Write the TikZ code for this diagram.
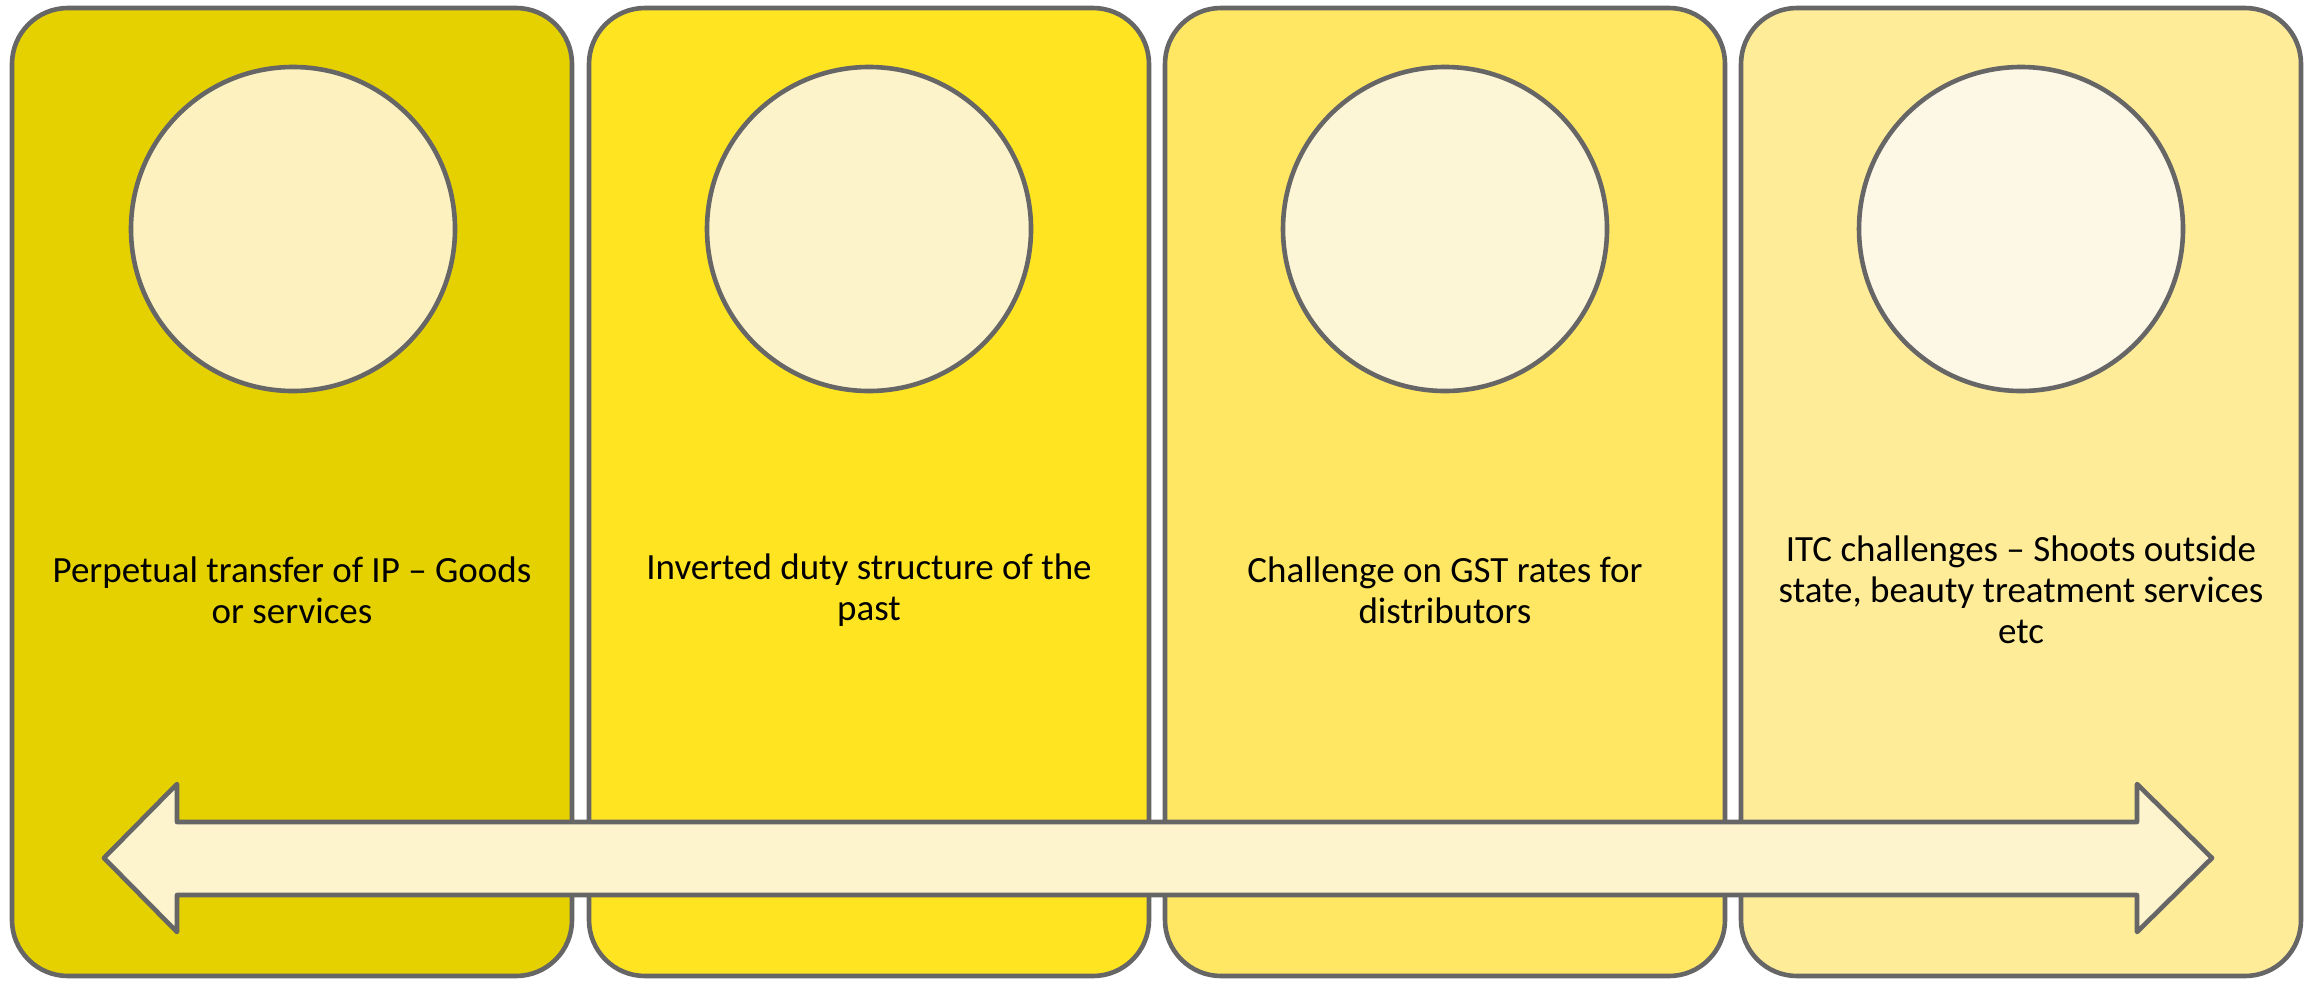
\documentclass[tikz,border=0pt]{standalone}
\usepackage{fontspec}
\setmainfont{Carlito}
\begin{document}
\definecolor{edge}{HTML}{666666}
\definecolor{panA}{HTML}{E5D000}
\definecolor{panB}{HTML}{FFE422}
\definecolor{panC}{HTML}{FFE763}
\definecolor{panD}{HTML}{FFEC98}
\definecolor{dotA}{HTML}{FDF2BF}
\definecolor{dotB}{HTML}{FDF3CA}
\definecolor{dotC}{HTML}{FDF6D6}
\definecolor{dotD}{HTML}{FDF7E6}
\definecolor{band}{HTML}{FDF3CC}
\begin{tikzpicture}[x=1pt,y=-1pt,
  panel/.style={draw=edge,line width=4.6pt,rounded corners=56pt,minimum width=560pt,minimum height=968pt,inner sep=0pt,outer sep=0pt},
  disc/.style={circle,draw=edge,line width=4.6pt,minimum size=324pt,inner sep=0pt},
  caption/.style={align=center,font=\fontsize{37}{41}\selectfont,text=black},
  band/.style={draw=edge,line width=4.6pt,line join=round,fill=band}]
\useasboundingbox (0,0) rectangle (2317,980);
% four stage panels
\node[panel,fill=panA] (p1) at (292,492) {};
\node[panel,fill=panB] (p2) at (869,492) {};
\node[panel,fill=panC] (p3) at (1445,492) {};
\node[panel,fill=panD] (p4) at (2021,492) {};
% placeholder discs
\node[disc,fill=dotA] (c1) at (293,229) {};
\node[disc,fill=dotB] (c2) at (869,229) {};
\node[disc,fill=dotC] (c3) at (1445,229) {};
\node[disc,fill=dotD] (c4) at (2021,229) {};
% captions
\node[caption] (t1) at (292,590) {Perpetual transfer of IP -- Goods\\or services};
\node[caption] (t2) at (869,590) {Inverted duty structure of the\\past};
\node[caption] (t3) at (1445,590) {Challenge on GST rates for\\distributors};
\node[caption] (t4) at (2021,590) {ITC challenges -- Shoots outside\\state, beauty treatment services\\etc};
% double-headed band across all panels
\coordinate (lt) at (104,858);
\coordinate (rt) at (2212,858);
\draw[band] (lt) -- (177,784) -- (177,822) -- (2137,822) -- (2137,784) -- (rt)
  -- (2137,932) -- (2137,895) -- (177,895) -- (177,932) -- cycle;
\end{tikzpicture}
\end{document}
